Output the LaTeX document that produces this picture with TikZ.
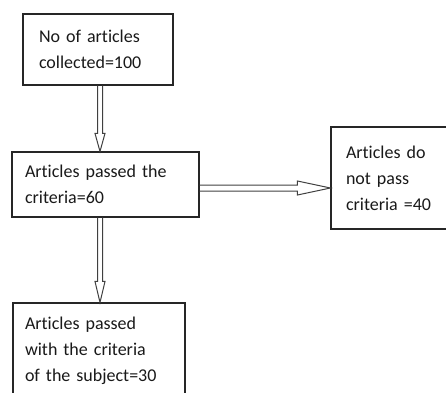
\documentclass[tikz,border=0pt]{standalone}
\usepackage{fontspec}
\setmainfont{Carlito}[Ligatures=NoCommon]
\usetikzlibrary{calc}
\begin{document}
\begin{tikzpicture}[x=1pt,y=1pt,
  box/.style={draw=black!85, line width=1.1pt, rectangle, align=left,
    font=\fontsize{18}{26}\selectfont, text=black!90, inner ysep=0pt},
  arrline/.style={draw=black!75, line width=1pt, line join=miter}]
\useasboundingbox (0,0) rectangle (446,392);
\begin{scope}
\clip (0,0) rectangle (446,392);
\node[box, minimum width=150, minimum height=71, inner xsep=16, text width=118] (b1) at (98,342.5)
  {No of articles\\collected=100};
\node[box, minimum width=187, minimum height=65, inner xsep=13, text width=161] (b2) at (105.5,207.5)
  {Articles passed the\\criteria=60};
\node[box, minimum width=130, minimum height=102, inner xsep=15, text width=100] (b3) at (396,214)
  {Articles do\\not pass\\criteria =40};
\node[box, minimum width=172, minimum height=96, inner xsep=12, text width=148] (b4) at (99,41)
  {Articles passed\\with the criteria\\of the subject=30};
\coordinate (ax) at (100,0);
\coordinate (ay) at (0,204);
% arrow b1 -> b2
\draw[arrline] ($(ax |- b1.south)+(-2.5,0)$) -- ($(ax |- b2.north)+(-2.5,18)$) -- ($(ax |- b2.north)+(-5,18)$)
  -- (ax |- b2.north) -- ($(ax |- b2.north)+(5,18)$) -- ($(ax |- b2.north)+(2.5,18)$) -- ($(ax |- b1.south)+(2.5,0)$);
% arrow b2 -> b4
\draw[arrline] ($(ax |- b2.south)+(-2.5,0)$) -- ($(ax |- b4.north)+(-2.5,21)$) -- ($(ax |- b4.north)+(-5,21)$)
  -- (ax |- b4.north) -- ($(ax |- b4.north)+(5,21)$) -- ($(ax |- b4.north)+(2.5,21)$) -- ($(ax |- b2.south)+(2.5,0)$);
% arrow b2 -> b3
\draw[arrline] ($(b2.east |- ay)+(0,3)$) -- ($(b3.west |- ay)+(-33,3)$) -- ($(b3.west |- ay)+(-33,7)$)
  -- (b3.west |- ay) -- ($(b3.west |- ay)+(-33,-7)$) -- ($(b3.west |- ay)+(-33,-3)$) -- ($(b2.east |- ay)+(0,-3)$);
\end{scope}
\end{tikzpicture}
\end{document}
